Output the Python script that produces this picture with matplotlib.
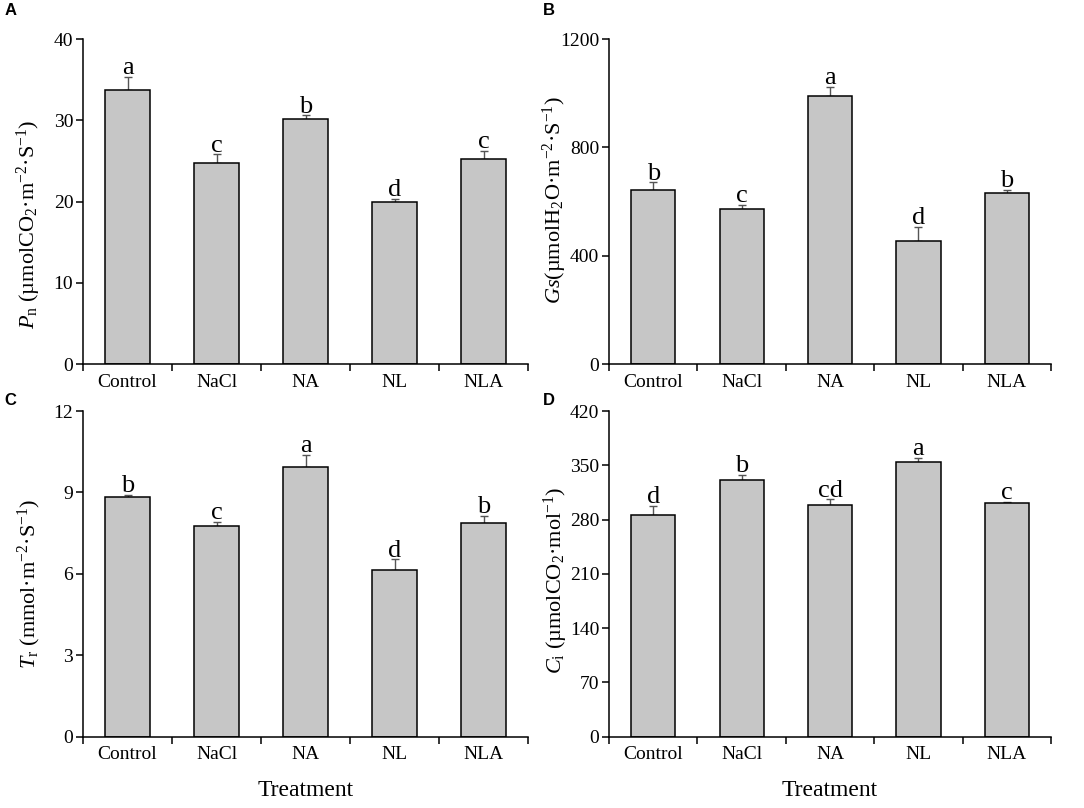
import numpy as np
import matplotlib
matplotlib.use("Agg")
import matplotlib.pyplot as plt

plt.rcParams['font.family'] = ['Liberation Serif', 'DejaVu Serif']
plt.rcParams['mathtext.fontset'] = 'custom'
plt.rcParams['mathtext.rm'] = 'Liberation Serif'
plt.rcParams['mathtext.it'] = 'Liberation Serif:italic'

treatments = ["Control", "NaCl", "NA", "NL", "NLA"]

pn = [33.7, 24.8, 30.1, 19.9, 25.2]
pn_err = [1.6, 1.0, 0.5, 0.45, 1.0]
pn_sig = ["a", "c", "b", "d", "c"]

gs = [641, 572, 990, 454, 632]
gs_err = [30, 15, 33, 53, 10]
gs_sig = ["b", "c", "a", "d", "b"]

tr = [8.82, 7.78, 9.94, 6.13, 7.87]
tr_err = [0.08, 0.13, 0.44, 0.40, 0.28]
tr_sig = ["b", "c", "a", "d", "b"]

ci = [286, 331, 299, 354, 302]
ci_err = [12, 7, 7, 6, 1]
ci_sig = ["d", "b", "cd", "a", "c"]

# name, values, errors, letters, y ticks, y label, axes rect, ylabel coords
panels = [
    ("A", pn, pn_err, pn_sig, [0, 10, 20, 30, 40],
     r'$P_{\rm n}$ (µmolCO$_2$·m$^{-2}$·S$^{-1}$)', [0.0766, 0.5495, 0.4105, 0.4022], (-0.091, 0.43)),
    ("B", gs, gs_err, gs_sig, [0, 400, 800, 1200],
     r'$Gs$(µmolH$_2$O·m$^{-2}$·S$^{-1}$)', [0.5618, 0.5495, 0.4078, 0.4022], (-0.091, 0.505)),
    ("C", tr, tr_err, tr_sig, [0, 3, 6, 9, 12],
     r'$T_{\rm r}$ (mmol·m$^{-2}$·S$^{-1}$)', [0.0766, 0.0882, 0.4105, 0.4031], (-0.091, 0.47)),
    ("D", ci, ci_err, ci_sig, [0, 70, 140, 210, 280, 350, 420],
     r'$C_{\rm i}$ (µmolCO$_2$·mol$^{-1}$)', [0.5618, 0.0882, 0.4078, 0.4031], (-0.088, 0.48)),
]

fig = plt.figure(figsize=(10.84, 8.08), dpi=100)
x = np.arange(len(treatments))

for name, vals, errs, sig, yt, ylab, rect, lc in panels:
    ax = fig.add_axes(rect)
    ax.bar(x, vals, width=0.5, color='#c6c6c6', edgecolor='black', linewidth=1.1, zorder=2)
    ax.errorbar(x, vals, yerr=[np.zeros(len(vals)), errs], fmt='none',
                ecolor='#555555', elinewidth=1.0, capsize=3, capthick=1.0, zorder=1)
    for xi, v, e, s in zip(x, vals, errs, sig):
        ax.annotate(s, (xi, v + e), xytext=(0, 2), textcoords='offset points',
                    ha='center', va='baseline', fontsize=19)
    ax.set_xlim(-0.5, 4.5)
    ax.set_ylim(yt[0], yt[-1])
    ax.set_yticks(yt)
    ax.set_xticks(x)
    ax.set_xticklabels(treatments)
    ax.set_xticks(np.arange(-0.5, 5, 1), minor=True)
    ax.tick_params(axis='x', which='major', length=0, labelsize=14, pad=7)
    ax.tick_params(axis='x', which='minor', length=5, width=1.1, direction='out')
    ax.tick_params(axis='y', which='major', length=5, width=1.1, labelsize=14, pad=2)
    for sp in ['top', 'right']:
        ax.spines[sp].set_visible(False)
    for sp in ['left', 'bottom']:
        ax.spines[sp].set_linewidth(1.1)
    ax.set_ylabel(ylab, fontsize=16)
    ax.yaxis.set_label_coords(*lc)
    if name in ("C", "D"):
        ax.set_xlabel("Treatment", fontsize=17, labelpad=12)
    lx = 0.004 if name in ("A", "C") else 0.501
    ly = 0.996 if name in ("A", "B") else 0.513
    fig.text(lx, ly, name, fontsize=12, fontweight='bold', family='Liberation Sans',
             ha='left', va='top')

fig.savefig("out.png", dpi=100)
